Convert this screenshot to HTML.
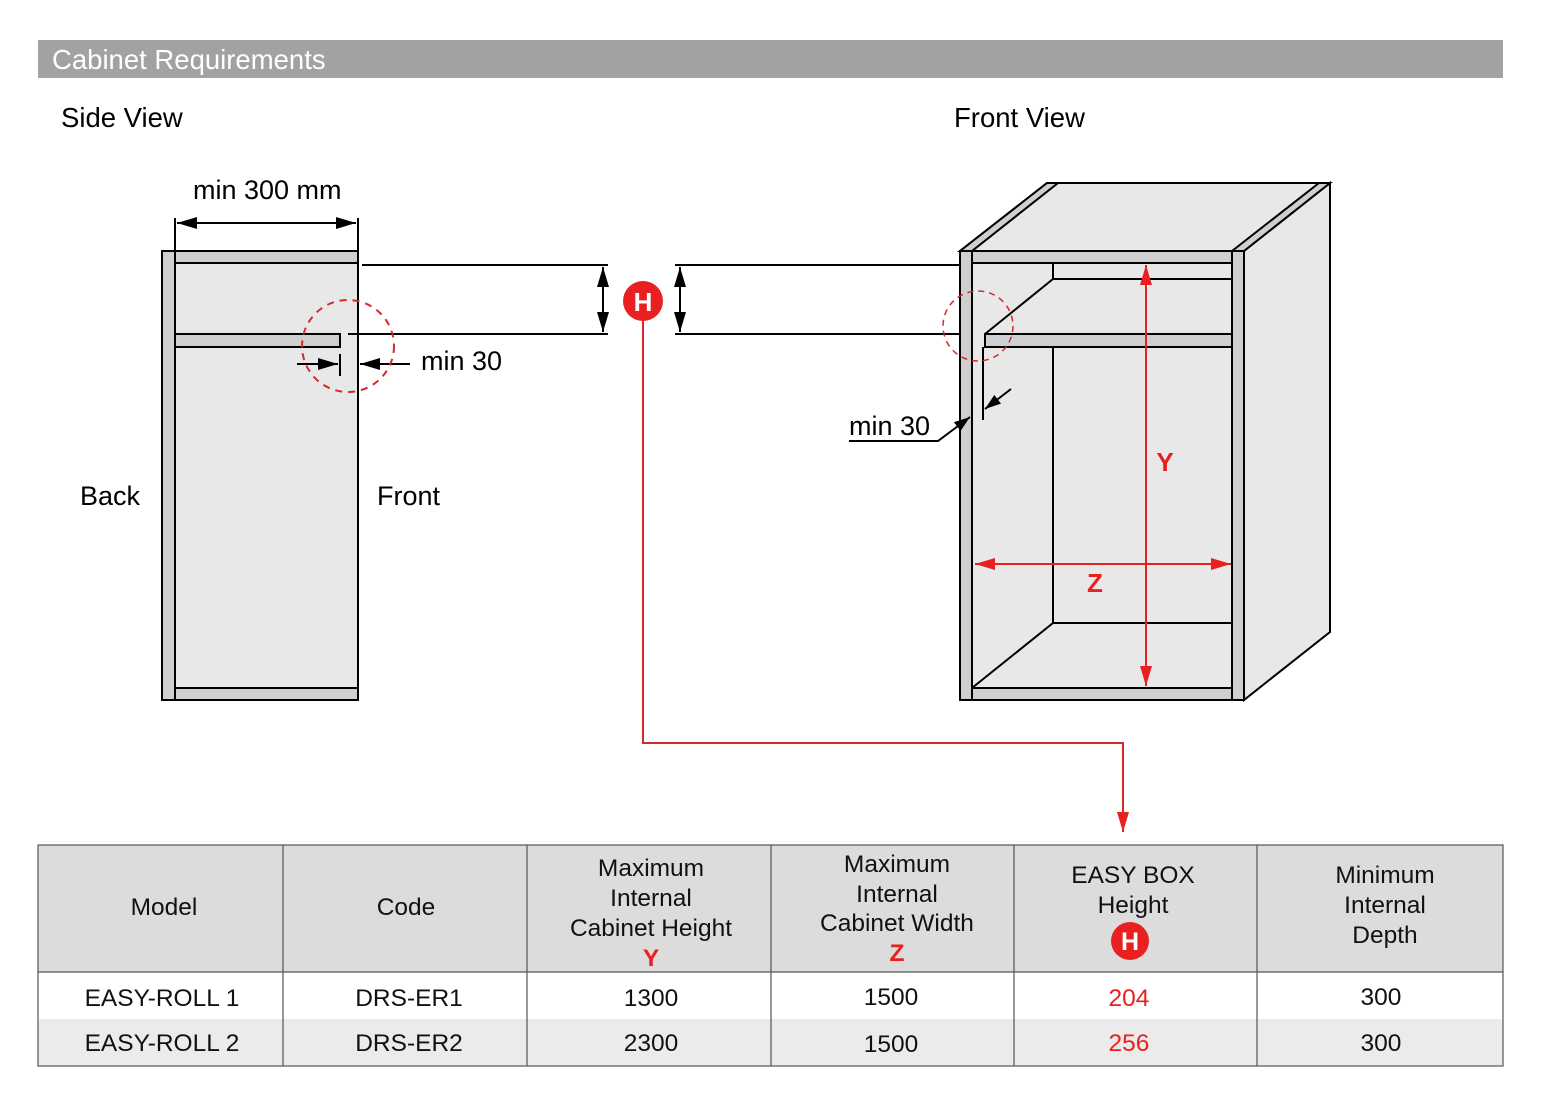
<!DOCTYPE html>
<html><head><meta charset="utf-8"><style>
body{margin:0;background:#fff;}
svg{display:block;font-family:"Liberation Sans",Arial,sans-serif;}
</style></head><body>
<svg width="1547" height="1115" viewBox="0 0 1547 1115" xmlns="http://www.w3.org/2000/svg">
<defs>
<marker id="abl" viewBox="0 0 10 10" refX="10" refY="5" markerWidth="20" markerHeight="12" orient="auto-start-reverse" markerUnits="userSpaceOnUse" preserveAspectRatio="none"><path d="M0,0 L10,5 L0,10 z" fill="#000"/></marker>
<marker id="abs" viewBox="0 0 10 10" refX="10" refY="5" markerWidth="16" markerHeight="11" orient="auto-start-reverse" markerUnits="userSpaceOnUse" preserveAspectRatio="none"><path d="M0,0 L10,5 L0,10 z" fill="#000"/></marker>
<marker id="ar" viewBox="0 0 10 10" refX="10" refY="5" markerWidth="20" markerHeight="12" orient="auto-start-reverse" markerUnits="userSpaceOnUse" preserveAspectRatio="none"><path d="M0,0 L10,5 L0,10 z" fill="#e8201f"/></marker>
</defs>
<rect x="38" y="40" width="1465" height="38" fill="#a2a2a5"/>
<text x="52" y="69" font-size="27.5" fill="#fff">Cabinet Requirements</text>
<text x="61" y="127" font-size="27.5">Side View</text>
<text x="954" y="127" font-size="27.5">Front View</text>

<!-- Side view -->
<g stroke="#000" stroke-width="2">
<rect x="175" y="263" width="183" height="425" fill="#e8e8e8" stroke="none"/>
<rect x="162" y="251" width="13" height="449" fill="#cfcfcf"/>
<rect x="175" y="251" width="183" height="12" fill="#cfcfcf"/>
<rect x="175" y="688" width="183" height="12" fill="#cfcfcf"/>
<rect x="175" y="334" width="165" height="13" fill="#cfcfcf"/>
<line x1="358" y1="218" x2="358" y2="700"/>
<line x1="175" y1="218" x2="175" y2="251"/>
<line x1="177" y1="223" x2="356" y2="223" marker-start="url(#abl)" marker-end="url(#abl)"/>
<line x1="362" y1="265" x2="608" y2="265"/>
<line x1="348" y1="334" x2="608" y2="334"/>
<line x1="603" y1="267" x2="603" y2="332" marker-start="url(#abl)" marker-end="url(#abl)"/>
<line x1="675" y1="265" x2="965" y2="265"/>
<line x1="675" y1="334" x2="978" y2="334"/>
<line x1="680" y1="267" x2="680" y2="332" marker-start="url(#abl)" marker-end="url(#abl)"/>
<line x1="340" y1="354" x2="340" y2="376"/>
<line x1="297" y1="364" x2="338" y2="364" marker-end="url(#abl)"/>
<line x1="410" y1="364" x2="360" y2="364" marker-end="url(#abl)"/>
</g>
<circle cx="348" cy="346" r="46" fill="none" stroke="#d42a2a" stroke-width="2" stroke-dasharray="7,6"/>
<text x="193" y="199" font-size="27">min 300 mm</text>
<text x="421" y="370" font-size="27">min 30</text>
<text x="80" y="505" font-size="27">Back</text>
<text x="377" y="505" font-size="27">Front</text>

<!-- H marker and red path -->
<polyline points="643,320 643,743 1123,743 1123,832" fill="none" stroke="#d42a2a" stroke-width="2" marker-end="url(#ar)"/>
<circle cx="643" cy="301" r="20" fill="#e8201f"/>
<text x="643" y="311" font-size="26" font-weight="bold" fill="#fff" text-anchor="middle">H</text>

<!-- Front view -->
<g stroke="#000" stroke-width="2" stroke-linejoin="miter">
<polygon points="960,251 1047,183 1330,183 1244,251" fill="#e8e8e8"/>
<polygon points="1244,251 1330,183 1330,632 1244,700" fill="#e8e8e8"/>
<polygon points="960,251 1047,183 1058,183 972,251" fill="#cfcfcf"/>
<polygon points="1232,251 1319,183 1330,183 1244,251" fill="#cfcfcf"/>
<rect x="972" y="263" width="260" height="425" fill="#e8e8e8" stroke="none"/>
<rect x="960" y="251" width="12" height="449" fill="#cfcfcf"/>
<rect x="1232" y="251" width="12" height="449" fill="#cfcfcf"/>
<rect x="972" y="251" width="260" height="12" fill="#cfcfcf"/>
<rect x="972" y="688" width="260" height="12" fill="#cfcfcf"/>
<line x1="1053" y1="263" x2="1053" y2="279"/>
<line x1="1053" y1="279" x2="1232" y2="279"/>
<line x1="1053" y1="279" x2="985" y2="334"/>
<rect x="985" y="334" width="247" height="13" fill="#cfcfcf"/>
<line x1="1053" y1="347" x2="1053" y2="623"/>
<line x1="1053" y1="623" x2="1232" y2="623"/>
<line x1="1053" y1="623" x2="972" y2="688"/>
<line x1="983" y1="347" x2="983" y2="420"/>
<line x1="1011" y1="389" x2="985" y2="409" marker-end="url(#abs)"/>
<polyline points="849,441 938,441 970,417" fill="none" marker-end="url(#abs)"/>
</g>
<circle cx="978" cy="326" r="35" fill="none" stroke="#d42a2a" stroke-width="1.5" stroke-dasharray="6,5"/>
<text x="849" y="435" font-size="27">min 30</text>
<g stroke="#e8201f" stroke-width="2">
<line x1="1146" y1="265" x2="1146" y2="686" marker-start="url(#ar)" marker-end="url(#ar)"/>
<line x1="975" y1="564" x2="1231" y2="564" marker-start="url(#ar)" marker-end="url(#ar)"/>
</g>
<text x="1165" y="471" font-size="26" font-weight="bold" fill="#e8201f" text-anchor="middle">Y</text>
<text x="1095" y="592" font-size="26" font-weight="bold" fill="#e8201f" text-anchor="middle">Z</text>

<!-- Table -->
<rect x="38" y="845" width="1465" height="127" fill="#dcdcdc"/>
<rect x="38" y="1019" width="1465" height="47" fill="#ebebeb"/>
<g stroke="#555" stroke-width="1.2" fill="none">
<rect x="38" y="845" width="1465" height="221"/>
<line x1="38" y1="972" x2="1503" y2="972"/>
<line x1="283" y1="845" x2="283" y2="1066"/>
<line x1="527" y1="845" x2="527" y2="1066"/>
<line x1="771" y1="845" x2="771" y2="1066"/>
<line x1="1014" y1="845" x2="1014" y2="1066"/>
<line x1="1257" y1="845" x2="1257" y2="1066"/>
</g>
<g font-size="24.5" text-anchor="middle" fill="#111">
<text x="164" y="915">Model</text>
<text x="406" y="915">Code</text>
<text x="651" y="876">Maximum</text><text x="651" y="906">Internal</text><text x="651" y="936">Cabinet Height</text>
<text x="651" y="966" fill="#e8201f" font-weight="bold">Y</text>
<text x="897" y="872">Maximum</text><text x="897" y="902">Internal</text><text x="897" y="931">Cabinet Width</text>
<text x="897" y="961" fill="#e8201f" font-weight="bold">Z</text>
<text x="1133" y="883">EASY BOX</text><text x="1133" y="913">Height</text>
<text x="1385" y="883">Minimum</text><text x="1385" y="913">Internal</text><text x="1385" y="943">Depth</text>
<text x="162" y="1006">EASY-ROLL 1</text><text x="409" y="1006">DRS-ER1</text><text x="651" y="1006">1300</text><text x="891" y="1005">1500</text><text x="1129" y="1006" fill="#e8201f">204</text><text x="1381" y="1005">300</text>
<text x="162" y="1051">EASY-ROLL 2</text><text x="409" y="1051">DRS-ER2</text><text x="651" y="1051">2300</text><text x="891" y="1052">1500</text><text x="1129" y="1051" fill="#e8201f">256</text><text x="1381" y="1051">300</text>
</g>
<circle cx="1130" cy="941" r="19" fill="#e8201f"/>
<text x="1130" y="950" font-size="25" font-weight="bold" fill="#fff" text-anchor="middle">H</text>
</svg>
</body></html>
